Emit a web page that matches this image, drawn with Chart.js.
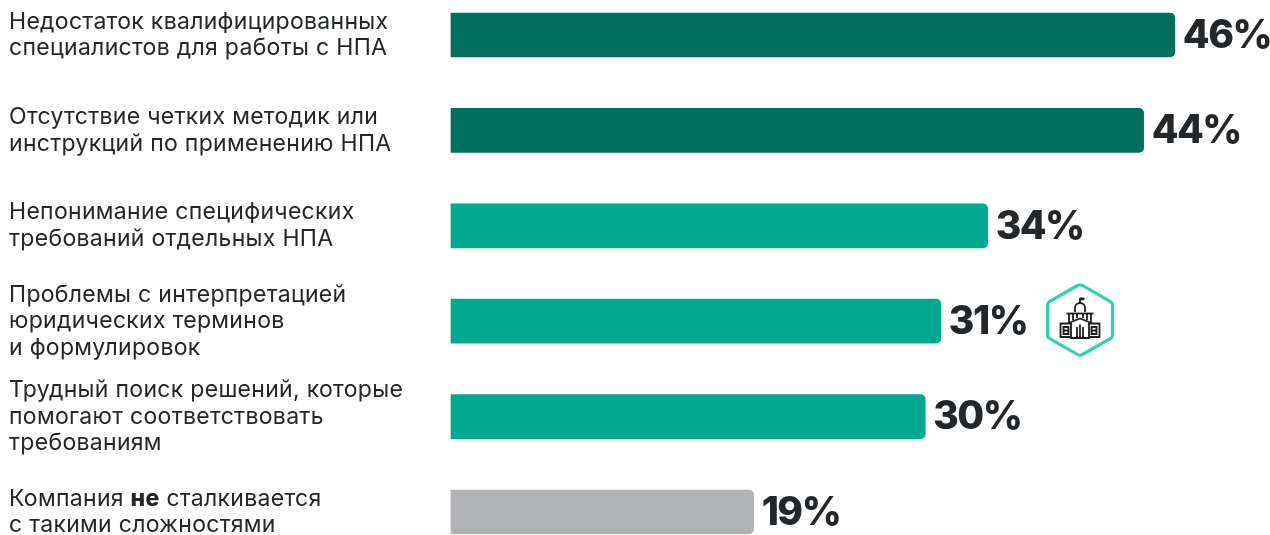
<!DOCTYPE html>
<html lang="ru">
<head>
<meta charset="utf-8">
<title>Сложности при работе с НПА</title>
<script src="https://cdn.jsdelivr.net/npm/chart.js@4"></script>
<style>
html,body{margin:0;padding:0;background:#fff;overflow:hidden}
#wrap{position:relative;width:1270px;height:535px}
#icon{position:absolute;left:1030px;top:275px}
</style>
</head>
<body>
<div id="wrap">
<canvas id="bars" width="1270" height="535"></canvas>
<svg id="icon" width="100" height="90" viewBox="0 0 100 90">
	<!-- hexagon badge -->
	<path d="M47.500 10.500 Q50 9 52.500 10.500 L80.500 26.500 Q82.500 28 82.500 30 L82.500 60 Q82.500 62 80.500 63.500 L52.500 79.500 Q50 81 47.500 79.500 L19.500 63.500 Q17.500 62 17.500 60 L17.500 30 Q17.500 28 19.500 26.500 Z" fill="#fff" stroke="#2ed1b0" stroke-width="3.200"/>
	<!-- building -->
	<g fill="none" stroke="#1d1d1b" stroke-width="1.800">
		<path d="M50 28 V23"/>
		<path d="M50 23 h4 v1.800 h-4" fill="#1d1d1b" stroke-width="1"/>
		<path d="M45 37 v-4 a5 5 0 0 1 10 0 v4"/>
		<path d="M36.500 38.500 h27"/>
		<path d="M39 39 v9 M61 39 v9 M43 39 v6 M57 39 v6 M47 39 v4 M53 39 v4"/>
		<path d="M41 47 L50 43.500 L59 47 V63 H41 Z"/>
		<path d="M41 48.500 H30.500 V62 H41 M59 48.500 H69.500 V62 H59"/>
		<path d="M33.500 52 h5 v7 h-5 z M33.500 55.500 h5 M61.500 52 h5 v7 h-5 z M61.500 55.500 h5"/>
		<path d="M47 63 V52 M53 63 V52 M50 49.500 v13.500"/>
	</g>
</svg>
</div>
<script>
// label lines, *word* is set in bold
var categories = [
	["Недостаток квалифицированных", "специалистов для работы с НПА"],
	["Отсутствие четких методик или", "инструкций по применению НПА"],
	["Непонимание специфических", "требований отдельных НПА"],
	["Проблемы с интерпретацией", "юридических терминов", "и формулировок"],
	["Трудный поиск решений, которые", "помогают соответствовать", "требованиям"],
	["Компания *не* сталкивается", "с такими сложностями"]
];
var values = [46, 44, 34, 31, 30, 19];
var barColors = ["#00705c", "#00705c", "#00a88e", "#00a88e", "#00a88e", "#b0b2b5"];

var labelFont = "Inter, sans-serif";
var textColor = "#23272a";

// left column text, placed on the category scale
var categoryLabels = {
	id: "categoryLabels",
	afterDraw: function(chart){
		var ctx = chart.ctx;
		var yScale = chart.scales.y;
		var lineHeight = 26.5;
		ctx.save();
		ctx.fillStyle = textColor;
		ctx.textBaseline = "middle";
		ctx.textAlign = "left";
		ctx.letterSpacing = "0.3px";
		categories.forEach(function(lines, i){
			var y = yScale.getPixelForTick(i) - (lines.length - 1) * lineHeight / 2;
			lines.forEach(function(line, n){
				var x = 9;
				line.split("*").forEach(function(part, k){
					ctx.font = (k % 2 ? "800 " : "400 ") + "23px " + labelFont;
					ctx.fillText(part, x, y + n * lineHeight);
					x += ctx.measureText(part).width;
				});
			});
		});
		ctx.restore();
	}
};

// percent figures at the bar ends
var valueLabels = {
	id: "valueLabels",
	afterDatasetsDraw: function(chart){
		var ctx = chart.ctx;
		var meta = chart.getDatasetMeta(0);
		ctx.save();
		ctx.fillStyle = textColor;
		ctx.font = "800 39px " + labelFont;
		ctx.letterSpacing = "-1.5px";
		ctx.textBaseline = "middle";
		meta.data.forEach(function(bar, i){
			ctx.fillText(values[i] + "%", bar.x + 8, bar.y + 1);
		});
		ctx.restore();
	}
};

new Chart(document.getElementById("bars"), {
	type: "bar",
	data: {
		labels: categories.map(function(c){ return c.join(" ").replace(/\*/g, ""); }),
		datasets: [{
			data: values,
			base: -0.4,
			backgroundColor: barColors,
			barThickness: 44,
			borderRadius: 5,
			clip: false
		}]
	},
	options: {
		indexAxis: "y",
		responsive: false,
		animation: false,
		layout: { padding: { left: 451, right: 0, top: 35, bottom: 23 } },
		scales: {
			x: { display: false, min: -0.4, max: 52.1 },
			y: { display: false, offset: false }
		},
		plugins: { legend: { display: false }, tooltip: { enabled: false } }
	},
	plugins: [categoryLabels, valueLabels]
});
</script>
</body>
</html>
